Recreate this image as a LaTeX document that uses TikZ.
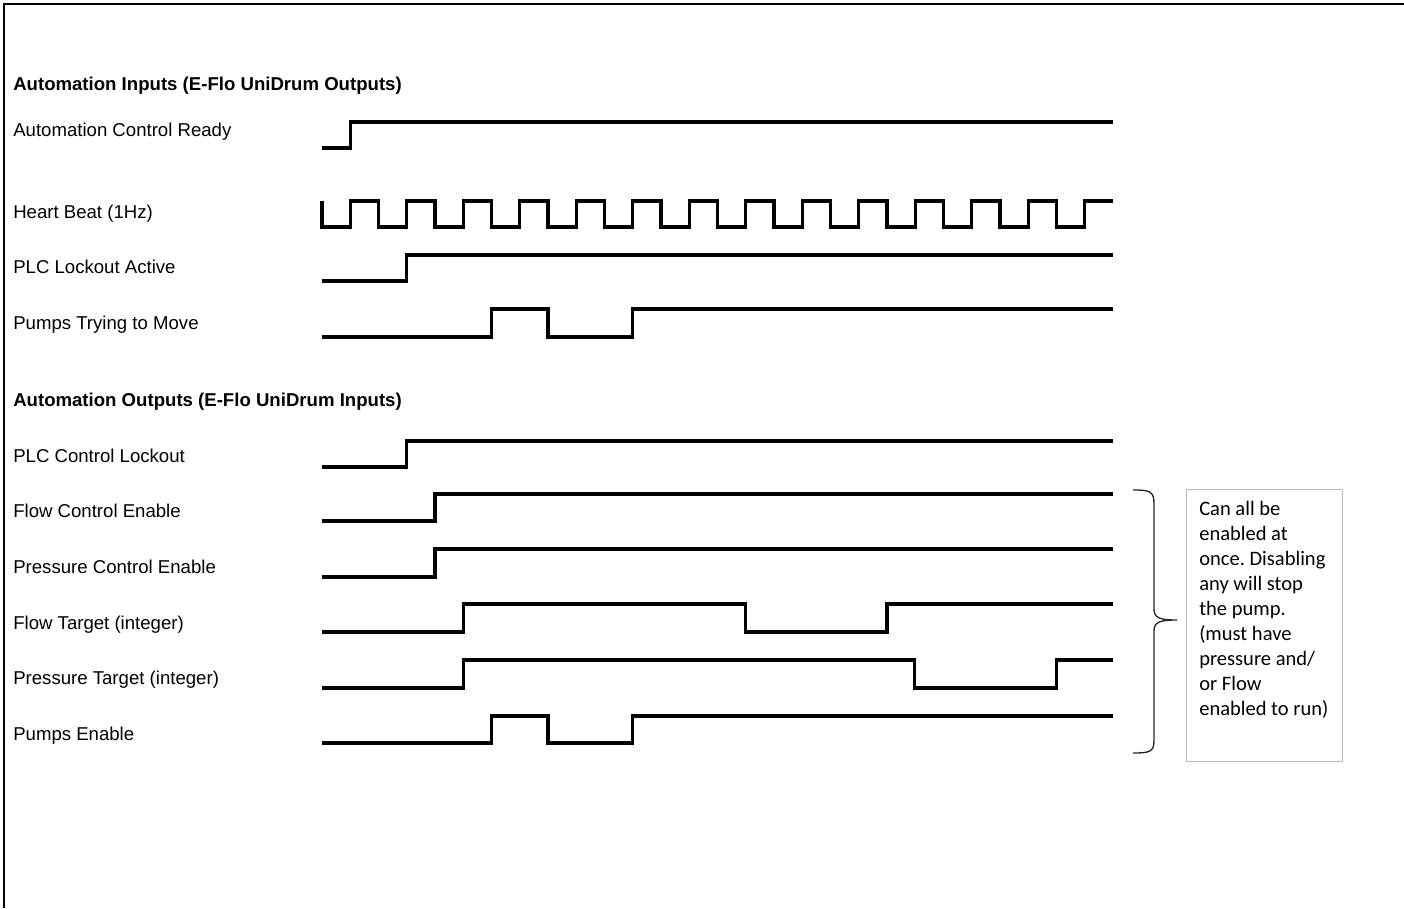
\documentclass[tikz,border=0pt]{standalone}
\usepackage{fontspec}
\setmainfont{Liberation Sans}
\newfontfamily\calfont{Carlito}
\begin{document}
\begin{tikzpicture}[x=0.75pt,y=-0.75pt,
  frame/.style={line width=2.2pt,line join=miter},
  wave/.style={line width=2.5pt,line join=miter},
  lbl/.style={anchor=base west,inner sep=0pt,font=\fontsize{13.95}{16}\selectfont},
  hdr/.style={lbl,font=\fontsize{13.95}{16}\selectfont\bfseries},
  bracestyle/.style={line width=1pt,black!85},
  notebox/.style={draw=black!28,line width=0.8pt}]
\useasboundingbox (0,0) rectangle (1404,908);
% frame
\draw[frame] (1404,4) -- (4,4) -- (4,908);
% headers
\node[hdr] (hin) at (13,90) {Automation Inputs (E-Flo UniDrum Outputs)};
\node[hdr] (hout) at (13,406) {Automation Outputs (E-Flo UniDrum Inputs)};
% labels
\node[lbl] (lacr) at (13,136) {Automation Control Ready};
\node[lbl] (lhb)  at (13,218) {Heart Beat (1Hz)};
\node[lbl] (lpla) at (13,273) {PLC Lockout Active};
\node[lbl] (lptm) at (13,329) {Pumps Trying to Move};
\node[lbl] (lpcl) at (13,462) {PLC Control Lockout};
\node[lbl] (lfce) at (13,517) {Flow Control Enable};
\node[lbl] (lpce) at (13,573) {Pressure Control Enable};
\node[lbl] (lft)  at (13,629) {Flow Target (integer)};
\node[lbl] (lpt)  at (13,684) {Pressure Target (integer)};
\node[lbl] (lpe)  at (13,740) {Pumps Enable};
% waveforms
\draw[wave] (322,148) -- (350.25,148) -- (350.25,122) -- (1113,122);
\draw[wave] (322,201) -- (322,227)
  \foreach \k in {1,3,...,25} { -- ({322+\k*28.25},227) -- ({322+\k*28.25},201) -- ({322+(\k+1)*28.25},201) -- ({322+(\k+1)*28.25},227) }
  -- (1084.75,227) -- (1084.75,201) -- (1113,201);
\draw[wave] (322,281) -- (406.75,281) -- (406.75,255) -- (1113,255);
\draw[wave] (322,337) -- (491.5,337) -- (491.5,309) -- (548,309) -- (548,337) -- (632.75,337) -- (632.75,309) -- (1113,309);
\draw[wave] (322,467) -- (406.75,467) -- (406.75,441) -- (1113,441);
\draw[wave] (322,521) -- (435,521) -- (435,494) -- (1113,494);
\draw[wave] (322,577) -- (435,577) -- (435,549) -- (1113,549);
\draw[wave] (322,632) -- (463.25,632) -- (463.25,604) -- (745.5,604) -- (745.5,632) -- (887,632) -- (887,604) -- (1113,604);
\draw[wave] (322,688) -- (463.25,688) -- (463.25,660) -- (914.25,660) -- (914.25,688) -- (1056.5,688) -- (1056.5,660) -- (1113,660);
\draw[wave] (322,743) -- (491.5,743) -- (491.5,716) -- (548,716) -- (548,743) -- (632.75,743) -- (632.75,716) -- (1113,716);
% brace
\draw[bracestyle] (1133,490) .. controls (1149,490) and (1154,491) .. (1154,503)
  -- (1154,609) .. controls (1154,618) and (1160,620) .. (1177,620)
  .. controls (1160,620) and (1154,622) .. (1154,631)
  -- (1154,741) .. controls (1154,752) and (1149,753) .. (1133,753);
% note box
\node[notebox,minimum width=156*0.75pt,minimum height=272*0.75pt,anchor=north west,inner sep=0pt] (box) at (1186,489) {};
\node[anchor=north west,inner sep=0pt,align=left,font=\calfont\fontsize{15.4}{18.75}\selectfont\frenchspacing] (note) at (1199,500.5)
  {Can all be\\enabled at\\once. Disabling\\any will stop\\the pump.\\(must have\\pressure and/\\or Flow\\enabled to run)};
\end{tikzpicture}
\end{document}
